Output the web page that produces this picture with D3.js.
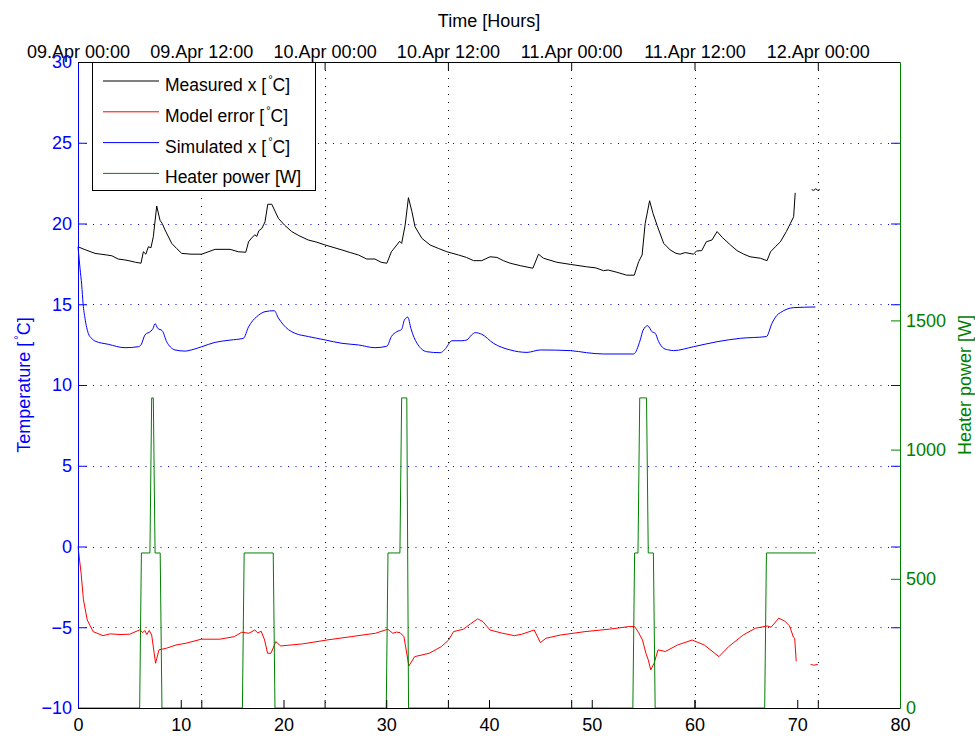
<!DOCTYPE html>
<html>
<head>
<meta charset="utf-8">
<script src="https://cdn.jsdelivr.net/npm/d3@7"></script>
<style>
  body { margin: 0; background: #fff; }
  svg { font-family: "Liberation Sans", Arial, sans-serif; }
  .tick text { font-size: 18px; }
</style>
</head>
<body>
<div id="chart"></div>
<script>
// [hour, value] pairs; null marks a gap in the recording
const measured = [[0,18.56],[0.6,18.4],[1.65,18.15],[2.8,18.05],[3.3,18.0],[3.9,17.8],[4.5,17.75],[5.06,17.68],[5.6,17.6],[6.13,17.54],
  [6.36,18.25],[6.6,18.1],[6.85,18.56],[7.1,18.5],[7.33,19.18],[7.66,21.08],[7.98,20.2],[8.2,20.0],[8.47,19.6],[9.12,18.77],[9.6,18.45],
  [10.1,18.15],[11,18.1],[12.04,18.1],[13.34,18.4],[14.8,18.4],[15.6,18.25],[16.33,18.22],[16.6,18.87],[16.9,19.1],[17.2,19.3],[17.4,19.2],
  [17.6,19.55],[17.9,19.7],[18.2,20.1],[18.47,21.19],[18.86,21.19],[19.5,20.32],[20.1,19.9],[20.8,19.5],[21.5,19.25],[22.4,18.98],[23.2,18.85],
  [24.05,18.67],[25.7,18.36],[26.5,18.2],[27.3,18.05],[28.1,17.8],[28.9,17.8],[29.5,17.6],[30.06,17.54],[30.5,18.25],[31.03,18.67],[31.3,18.9],
  [31.5,18.77],[31.84,19.9],[32.16,21.6],[32.5,20.73],[32.8,19.8],[33.47,19.08],[34.27,18.67],[35.1,18.45],[35.9,18.25],[37.03,18.05],[37.8,17.9],
  [38.5,17.7],[39.3,17.7],[40.1,17.94],[40.77,17.9],[41.4,17.7],[42.06,17.54],[43.04,17.39],[44.27,17.23],[44.82,18.1],[45.3,17.85],[46.6,17.6],
  [47.9,17.47],[49.5,17.32],[50.4,17.25],[51.15,17.08],[51.6,17.12],[52.45,16.98],[53.4,16.8],[54.14,16.8],[54.56,17.63],[54.9,18.05],[55.2,20.0],
  [55.63,21.41],[55.96,20.63],[56.35,19.9],[57.0,18.77],[57.64,18.36],[58.2,18.15],[58.6,18.1],[59.1,18.2],[59.9,18.1],[60.2,18.3],[60.7,18.32],
  [61.15,18.87],[61.7,18.98],[62.2,19.5],[62.7,19.14],[63.5,18.67],[64.14,18.32],[64.8,18.1],[65.4,17.94],[66.4,17.85],[67.06,17.7],[67.4,18.25],
  [67.87,18.56],[68.36,18.87],[68.94,19.5],[69.33,20.0],[69.65,20.42],[69.8,21.9],[70.5,null],[71.4,22.1],[71.6,22.05],[71.8,22.15],[72.0,22.05],[72.2,22.1]];

const modelError = [[0,0],[0.3,-1.65],[0.53,-3.3],[0.9,-4.55],[1.48,-5.27],[2.43,-5.52],[3.14,-5.41],[4.09,-5.45],[5.03,-5.43],[5.98,-5.17],
  [6.3,-5.33],[6.5,-5.2],[6.7,-5.45],[6.93,-5.2],[7.17,-5.48],[7.55,-7.23],[7.88,-6.4],[8.6,-6.3],[9.54,-6.1],[10.5,-5.99],[12,-5.74],[13.8,-5.74],
  [15.22,-5.58],[15.93,-5.31],[16.64,-5.37],[17.2,-5.17],[17.5,-5.35],[17.83,-5.25],[18.16,-5.79],[18.45,-6.61],[18.78,-6.61],[19.25,-5.89],
  [19.73,-6.16],[21.86,-6.03],[24.23,-5.79],[26.6,-5.58],[28.97,-5.37],[30.15,-5.12],[30.63,-5.37],[31.0,-5.3],[31.34,-5.33],[31.72,-5.58],
  [32.2,-7.4],[32.76,-6.82],[34.18,-6.61],[35.36,-6.2],[36.07,-5.79],[36.55,-5.27],[37.5,-5.12],[38.2,-4.79],[38.9,-4.48],[39.4,-4.65],[40.1,-5.17],
  [41.3,-5.37],[42.47,-5.52],[43.2,-5.43],[44.4,-5.17],[45.0,-5.95],[45.55,-5.68],[46.97,-5.48],[49.35,-5.27],[51.7,-5.12],[53.6,-4.96],[54.18,-4.96],
  [54.56,-5.33],[54.94,-5.79],[55.27,-6.61],[55.5,-7.02],[55.74,-7.64],[56.07,-7.23],[56.45,-6.4],[57.16,-6.5],[58.35,-6.1],[59.77,-5.79],
  [60.95,-6.1],[62.38,-6.82],[63.32,-6.2],[64.74,-5.48],[65.93,-5.06],[67.1,-4.92],[67.45,-5.0],[68.2,-4.44],[68.77,-4.61],[69.25,-4.92],
  [69.63,-5.62],[69.75,-5.68],[69.9,-7.1],[70.6,null],[71.3,-7.3],[71.6,-7.35],[72.0,-7.3]];

const simulated = [[0,18.56],[0.2,17.2],[0.36,16.2],[0.5,15.0],[0.68,14.13],[1.0,13.2],[1.3,12.9],[1.66,12.72],[2.95,12.52],[4.58,12.31],
  [5.87,12.37],[6.13,12.48],[6.52,13.1],[7.1,13.34],[7.3,13.5],[7.5,13.8],[7.76,13.51],[8.2,13.36],[8.63,12.68],[9.0,12.35],[9.44,12.17],
  [10.42,12.1],[11.2,12.2],[12.04,12.37],[13.34,12.64],[14.8,12.78],[16.1,12.89],[16.6,13.6],[17.0,13.98],[17.4,14.23],[18.2,14.54],[19.1,14.6],
  [19.5,14.15],[20.0,13.72],[20.5,13.42],[21.13,13.2],[22.42,13.0],[24.05,12.79],[25.7,12.58],[27.3,12.48],[28.9,12.31],[30.06,12.4],[30.5,13.0],
  [31.03,13.3],[31.5,13.45],[31.77,14.03],[32.1,14.2],[32.4,13.5],[32.7,12.95],[33.0,12.58],[33.4,12.25],[33.95,12.06],[35.25,12.0],[35.7,12.2],
  [36.4,12.74],[37.36,12.74],[37.85,12.79],[38.3,13.1],[38.66,13.24],[39.3,13.14],[40.44,12.58],[42.06,12.17],[43.7,12.02],[45.0,12.17],
  [47.9,12.13],[49.5,12.0],[51.15,11.92],[54.07,11.92],[54.72,12.79],[55.0,13.4],[55.44,13.67],[55.86,13.3],[56.18,13.2],[56.5,12.7],[57.0,12.27],
  [57.5,12.17],[57.97,12.13],[59.9,12.37],[62.2,12.68],[64.46,12.89],[67.0,13.0],[67.54,13.82],[68.0,14.3],[68.36,14.48],[69.0,14.7],
  [69.65,14.79],[71.77,14.83]];

const heaterPower = [[0,0],[6.0,0],[6.17,600],[7.0,600],[7.17,1200],[7.33,1200],[7.5,600],[8.0,600],[8.17,0],[16.0,0],[16.17,600],[19.0,600],
  [19.17,0],[30.0,0],[30.17,600],[31.33,600],[31.5,1200],[32.0,1200],[32.17,0],[54.0,0],[54.17,600],[54.5,600],[54.67,1200],[55.33,1200],
  [55.5,600],[56.0,600],[56.17,0],[66.83,0],[67.0,600],[71.83,600]];

const hourTicks = d3.range(0, 81, 10);
const tempTicks = d3.range(-10, 31, 5);
const powerTicks = [0, 500, 1000, 1500];
const legendLabels = ["Measured x [", "Model error [", "Simulated x [", "Heater power [W]"];
const legendColors = ["#000000", "#ff0000", "#0000ff", "#008000"];

const width = 975, height = 736;
const margin = { top: 62, right: 75, bottom: 28, left: 78 };
const start = new Date(Date.UTC(2013, 3, 9, 0, 0));

const svg = d3.select('#chart')
  .append('svg')
    .attr('width', width)
    .attr('height', height);

const x = d3.scaleLinear().domain([0, 80]).range([margin.left, width - margin.right]);
const xTime = d3.scaleUtc()
  .domain([start, d3.utcHour.offset(start, 80)])
  .range(x.range());
const yT = d3.scaleLinear().domain([-10, 30]).range([height - margin.bottom, margin.top]);
const yP = d3.scaleLinear().domain([0, 2500]).range([height - margin.bottom, margin.top]);

const x0 = x.range()[0], x1 = x.range()[1];
const yTop = margin.top, yBot = height - margin.bottom;
const timeTicks = d3.utcHour.every(12).range(start, d3.utcHour.offset(start, 80));

// grids
svg.append("g").selectAll("line")
  .data(timeTicks)
  .enter().append("line")
    .attr("x1", d => Math.round(xTime(d)) + 0.5)
    .attr("x2", d => Math.round(xTime(d)) + 0.5)
    .attr("y1", yTop)
    .attr("y2", yBot)
    .attr("stroke", "#000")
    .attr("stroke-dasharray", "1,7");

svg.append("g").selectAll("line")
  .data(tempTicks.filter(d => d > -10 && d < 30))
  .enter().append("line")
    .attr("x1", x0)
    .attr("x2", x1)
    .attr("y1", d => Math.round(yT(d)) + 0.5)
    .attr("y2", d => Math.round(yT(d)) + 0.5)
    .attr("stroke", "#0000ff")
    .attr("stroke-dasharray", "1,6.5");

// series
const lineT = d3.line()
  .defined(d => d[1] !== null)
  .x(d => x(d[0]))
  .y(d => yT(d[1]));

const lineP = d3.line()
  .x(d => x(d[0]))
  .y(d => yP(d[1]));

svg.append("path").datum(measured)
  .attr("fill", "none").attr("stroke", legendColors[0]).attr("stroke-width", 1).attr("d", lineT);
svg.append("path").datum(modelError)
  .attr("fill", "none").attr("stroke", legendColors[1]).attr("stroke-width", 1).attr("d", lineT);
svg.append("path").datum(simulated)
  .attr("fill", "none").attr("stroke", legendColors[2]).attr("stroke-width", 1)
  .attr("d", lineT.curve(d3.curveMonotoneX));
lineT.curve(d3.curveLinear);
svg.append("path").datum(heaterPower)
  .attr("fill", "none").attr("stroke", legendColors[3]).attr("stroke-width", 1).attr("d", lineP);

// axes
function style(g, color) {
  g.selectAll(".domain").attr("stroke", color);
  g.selectAll(".tick line").attr("stroke", color);
  g.selectAll(".tick text").attr("fill", color).style("font-size", "18px");
}

svg.append("g")
  .attr("transform", `translate(0,${yBot})`)
  .call(d3.axisBottom(xTime).tickValues(timeTicks).tickSize(-8).tickFormat(""))
  .call(g => g.select(".domain").remove())
  .call(g => style(g, "#000"));

svg.append("g")
  .attr("transform", `translate(0,${yBot})`)
  .call(d3.axisBottom(x).tickValues(hourTicks).tickSize(-8).tickSizeOuter(0).tickPadding(10))
  .call(g => style(g, "#000"));

svg.append("g")
  .attr("transform", `translate(0,${yTop})`)
  .call(d3.axisTop(xTime).tickValues(timeTicks).tickSize(-8).tickSizeOuter(0).tickPadding(4.5)
    .tickFormat(d3.utcFormat("%d.%b %H:%M")))
  .call(g => style(g, "#000"));

svg.append("g")
  .attr("transform", `translate(${x1},0)`)
  .call(d3.axisRight(yT).tickValues(tempTicks).tickSize(-9).tickFormat(""))
  .call(g => g.select(".domain").remove())
  .call(g => style(g, "#0000ff"));

svg.append("g")
  .attr("transform", `translate(${x1},0)`)
  .call(d3.axisRight(yP).tickValues(powerTicks).tickSize(-9).tickSizeOuter(0).tickPadding(6)
    .tickFormat(d3.format("d")))
  .call(g => style(g, "#008000"));

svg.append("g")
  .attr("transform", `translate(${x0},0)`)
  .call(d3.axisLeft(yT).tickValues(tempTicks).tickSize(-9).tickSizeOuter(0).tickPadding(6))
  .call(g => style(g, "#0000ff"));

// axis titles
svg.append("text")
  .attr("x", (x0 + x1) / 2)
  .attr("y", 27)
  .attr("text-anchor", "middle")
  .style("font-size", "18px")
  .text("Time [Hours]");

const tLabel = svg.append("text")
  .attr("transform", `translate(30,${(yTop + yBot) / 2}) rotate(-90)`)
  .attr("text-anchor", "middle")
  .attr("fill", "#0000ff")
  .style("font-size", "18px");
tLabel.append("tspan").text("Temperature [");
tLabel.append("tspan").attr("dx", 2).attr("dy", -8).style("font-size", "11px").text("°");
tLabel.append("tspan").attr("dy", 8).text("C]");

svg.append("text")
  .attr("transform", `translate(971,${(yTop + yBot) / 2}) rotate(-90)`)
  .attr("text-anchor", "middle")
  .attr("fill", "#008000")
  .style("font-size", "18px")
  .text("Heater power [W]");

// legend
const legend = svg.append("g").attr("class", "legend");

legend.append("rect")
  .attr("x", 92.5).attr("y", yTop + 0.5)
  .attr("width", 223).attr("height", 128)
  .attr("fill", "#fff").attr("stroke", "#000");

const item = legend.selectAll(".item")
  .data(legendLabels)
  .enter().append("g")
    .attr("class", "item")
    .attr("transform", (d, i) => `translate(0,${81 + i * 30.8})`);

item.append("line")
  .attr("x1", 103).attr("x2", 159)
  .attr("stroke", (d, i) => legendColors[i]);

item.append("text")
  .attr("x", 165)
  .attr("y", 10)
  .style("font-size", "17.5px")
  .each(function(d, i) {
    const t = d3.select(this);
    t.append("tspan").text(d);
    if (i < 3) {
      t.append("tspan").attr("dx", 2).attr("dy", -8).style("font-size", "11px").text("°");
      t.append("tspan").attr("dy", 8).text("C]");
    }
  });

// box edges on top
svg.append("line").attr("x1", x0).attr("x2", x1).attr("y1", yTop + 0.5).attr("y2", yTop + 0.5).attr("stroke", "#000");
svg.append("line").attr("x1", x0).attr("x2", x1).attr("y1", yBot + 0.5).attr("y2", yBot + 0.5).attr("stroke", "#000");
</script>
</body>
</html>
